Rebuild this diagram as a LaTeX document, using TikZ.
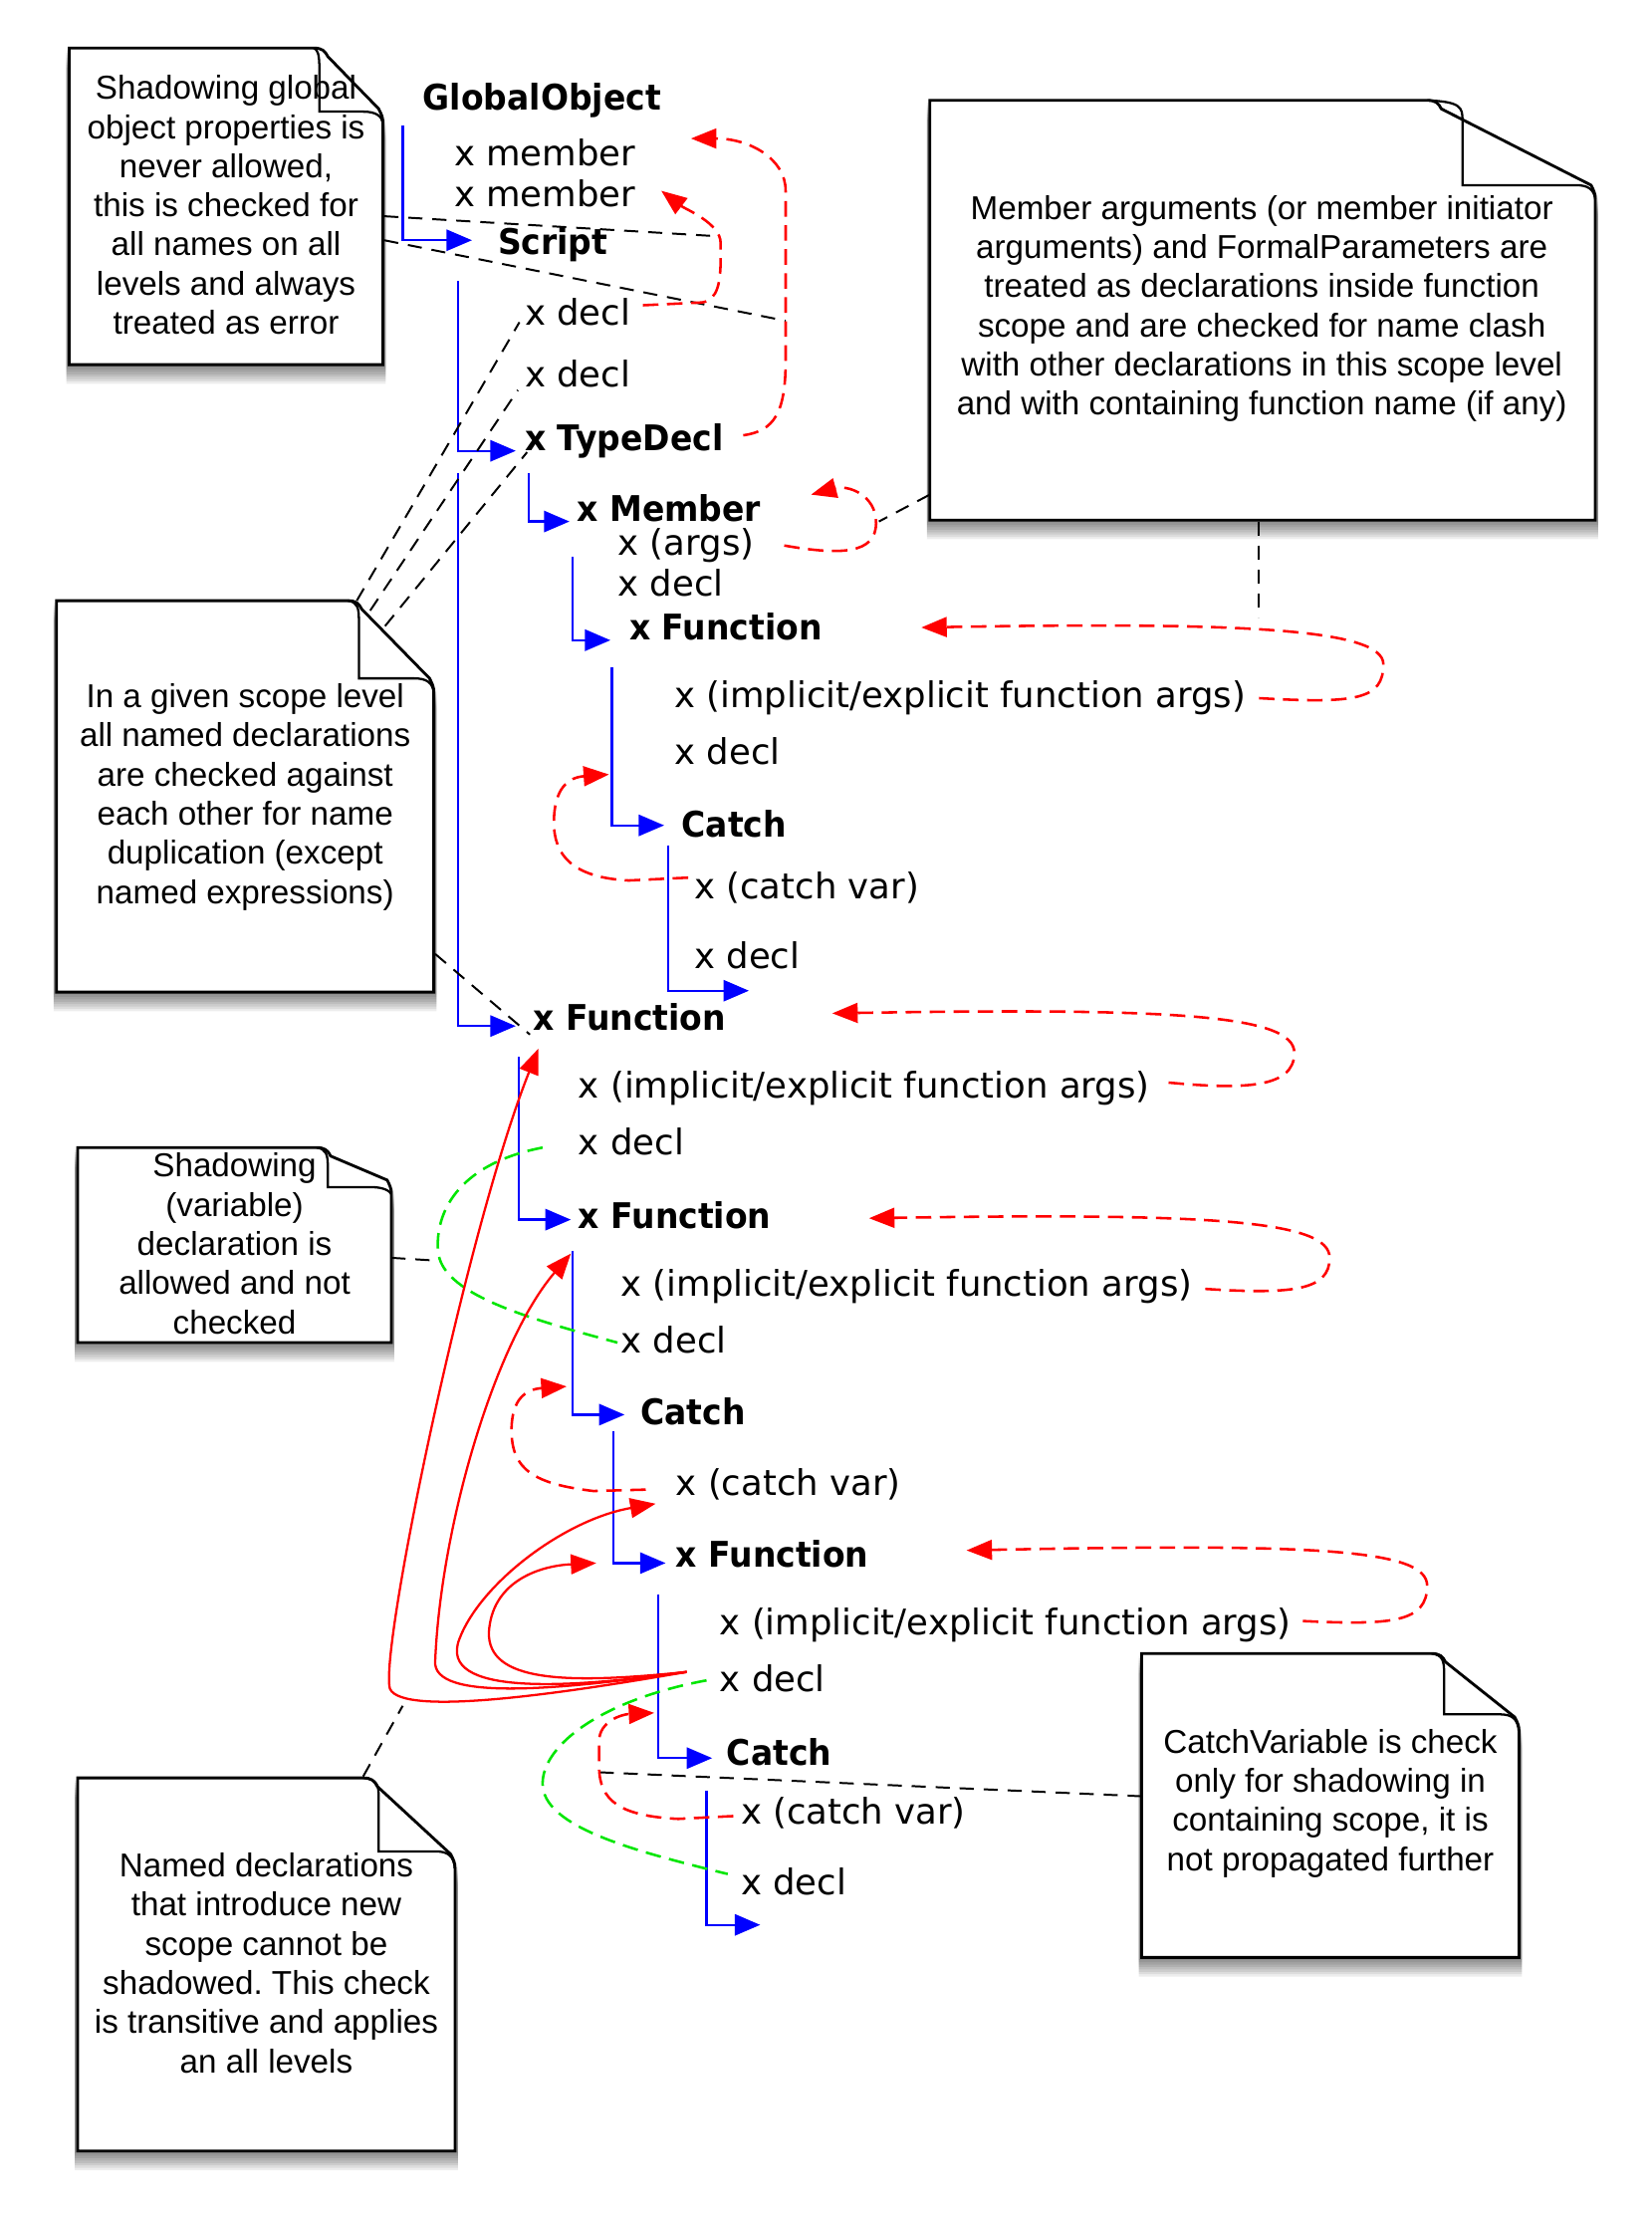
\documentclass[tikz,border=0pt]{standalone}
\usepackage{fontspec}
\setmainfont{Liberation Sans}
\newfontfamily\lblfont{DejaVu Sans}[BoldFeatures={FakeStretch=0.93}]
\usetikzlibrary{arrows.meta}
\definecolor{dgreen}{RGB}{0,230,0}
\frenchspacing
% x1 y1 x2 y2 xc xi yf yr
\newcommand{\notepath}[8]{(#1,#2) -- (#5,#2) .. controls (#5+6,#2) and (#5+8,#2+2) .. (#5+10,#2+6) -- (#3-3,#8-10) .. controls (#3-1,#8-6) and (#3,#8-4) .. (#3,#8) -- (#3,#4) -- (#1,#4) -- cycle}
\newcommand{\drawnote}[8]{%
  \foreach \k in {1,...,8} {\fill[black,opacity=0.07,shift={(0,1.7*\k)}] \notepath{#1-2}{#2}{#3+2}{#4}{#5}{#6}{#7}{#8};}
  \filldraw[fill=white,draw=black,line width=1pt] \notepath{#1}{#2}{#3}{#4}{#5}{#6}{#7}{#8};
  \draw[line width=0.8pt] (#5,#2) .. controls (#6-1,#2+1) and (#6,#2+5) .. (#6,#2+14) -- (#6,#7) -- (#3-14,#7) .. controls (#3-5,#7) and (#3-1,#7+3) .. (#3,#8);
}
\begin{document}
\begin{tikzpicture}[x=0.5pt,y=-0.5pt,
  lbl/.style={anchor=base west,inner sep=0pt,font=\lblfont\fontsize{12.5}{15}\selectfont},
  blbl/.style={anchor=base west,inner sep=0pt,font=\lblfont\bfseries\fontsize{12.5}{15}\selectfont},
  notetxt/.style={align=center,inner sep=0pt,font=\fontsize{11.7}{13.85}\selectfont},
  tree/.style={draw=blue,line width=0.8pt,-{Triangle[length=9pt,width=7.5pt]}},
  redd/.style={draw=red,line width=0.9pt,dash pattern=on 5.5pt off 3pt,-{Triangle[length=9pt,width=7pt]}},
  reds/.style={draw=red,line width=0.8pt,-{Triangle[length=9pt,width=7pt]}},
  greend/.style={draw=dgreen,line width=0.9pt,dash pattern=on 5.5pt off 3pt},
  blkd/.style={draw=black,line width=0.7pt,dash pattern=on 5pt off 3.5pt}]
\useasboundingbox (0,0) rectangle (1169,1568);
\fill[white] (0,0) rectangle (1169,1568);

% ---------- notes ----------
\drawnote{49}{34}{271}{258}{222}{226}{79}{87}
\drawnote{40}{425}{307}{702}{246}{254}{480}{490}
\drawnote{658}{71}{1129}{368}{1010}{1035}{131}{141}
\drawnote{55}{812}{277}{950}{224}{232}{840}{845}
\drawnote{55}{1258}{322}{1522}{257}{268}{1310}{1322}
\drawnote{808}{1170}{1075}{1385}{1013}{1022}{1213}{1225}

\node[notetxt] (n1) at (160,145) {Shadowing global\\object properties is\\never allowed,\\this is checked for\\all names on all\\levels and always\\treated as error};
\node[notetxt] (n2) at (173.5,564) {In a given scope level\\all named declarations\\are checked against\\each other for name\\duplication (except\\named expressions)};
\node[notetxt] (n3) at (893,218.5) {Member arguments (or member initiator\\arguments) and FormalParameters are\\treated as declarations inside function\\scope and are checked for name clash\\with other declarations in this scope level\\and with containing function name (if any)};
\node[notetxt] (n4) at (166,880) {Shadowing\\(variable)\\declaration is\\allowed and not\\checked};
\node[notetxt] (n5) at (188.5,1389) {Named declarations\\that introduce new\\scope cannot be\\shadowed. This check\\is transitive and applies\\an all levels};
\node[notetxt] (n6) at (941.5,1276) {CatchVariable is check\\only for shadowing in\\containing scope, it is\\not propagated further};

% ---------- labels ----------
\node[blbl] (GO) at (299,78) {GlobalObject};
\node[lbl] (m1) at (321,117) {x member};
\node[lbl] (m2) at (321,146) {x member};
\node[blbl] (Sc) at (352,180) {Script};
\node[lbl] (d1) at (371,230) {x decl};
\node[lbl] (d2) at (371,274) {x decl};
\node[blbl] (TD) at (371,319) {x TypeDecl};
\node[blbl] (Me) at (408,369) {x Member};
\node[lbl] (ar) at (437,393) {x (args)};
\node[lbl] (d3) at (437,422) {x decl};
\node[blbl] (F1) at (445,453) {x Function};
\node[lbl] (ia1) at (477,501) {x (implicit/explicit function args)};
\node[lbl] (d4) at (477,541) {x decl};
\node[blbl] (C1) at (482,592) {Catch};
\node[lbl] (cv1) at (491,636) {x (catch var)};
\node[lbl] (d5) at (491,685) {x decl};
\node[blbl] (F2) at (377,729) {x Function};
\node[lbl] (ia2) at (409,777) {x (implicit/explicit function args)};
\node[lbl] (d6) at (409,817) {x decl};
\node[blbl] (F3) at (409,869) {x Function};
\node[lbl] (ia3) at (439,917) {x (implicit/explicit function args)};
\node[lbl] (d7) at (439,957) {x decl};
\node[blbl] (C2) at (453,1008) {Catch};
\node[lbl] (cv2) at (478,1058) {x (catch var)};
\node[blbl] (F4) at (478,1109) {x Function};
\node[lbl] (ia4) at (509,1157) {x (implicit/explicit function args)};
\node[lbl] (d8) at (509,1197) {x decl};
\node[blbl] (C3) at (514,1249) {Catch};
\node[lbl] (cv3) at (524,1291) {x (catch var)};
\node[lbl] (d9) at (524,1341) {x decl};

% ---------- blue tree connectors ----------
\draw[tree] (285,89) |- (334,170);
\draw[tree] (324,199) |- (365,319);
\draw[tree] (374,335) |- (403,369);
\draw[tree] (405,394) |- (432,453);
\draw[tree] (433,472) |- (470,584);
\draw[tree] (473,598) |- (530,701);
\draw[tree] (324,335) |- (365,726);
\draw[tree] (367,748) |- (404,863);
\draw[tree] (405,885) |- (442,1001);
\draw[tree] (434,1013) |- (471,1106);
\draw[tree] (466,1128) |- (504,1244);
\draw[tree] (500,1267) |- (538,1362);

% ---------- black dashed note connectors ----------
\draw[blkd] (272,153) -- (505,167);
\draw[blkd] (272,170) -- (556,227);
\draw[blkd] (252.5,425) -- (367.6,228);
\draw[blkd] (262,432) -- (366.5,276);
\draw[blkd] (272.5,443) -- (373,320);
\draw[blkd] (308,675) -- (375,732);
\draw[blkd] (658,350) -- (622,369);
\draw[blkd] (891,369) -- (891,437);
\draw[blkd] (277,890) -- (309,892);
\draw[blkd] (257,1257) -- (285,1207);
\draw[blkd] (808,1271) -- (424,1254);

% ---------- red dashed loops ----------
\draw[redd] (526,308) .. controls (548,305) and (556,292) .. (556,255) -- (556,135) .. controls (556,112) and (530,98) .. (489,98);
\draw[redd] (455,216) -- (497,214) .. controls (508,212) and (510,200) .. (510,182) -- (510,172) .. controls (510,158) and (485,148) .. (468,135);
\draw[redd] (555,386) .. controls (595,393) and (620,392) .. (620,370) .. controls (620,350) and (600,343) .. (574,350);
\draw[redd] (891,494) .. controls (960,498) and (979,495) .. (979,470) .. controls (979,445) and (880,440) .. (652,444);
\draw[redd] (487,621) -- (445,623) .. controls (405,621) and (392,605) .. (392,582) .. controls (392,558) and (402,550) .. (431,548);
\draw[redd] (827,766) .. controls (880,771) and (916,770) .. (916,745) .. controls (916,718) and (830,713) .. (589,717);
\draw[redd] (853,912) .. controls (915,916) and (941,913) .. (941,890) .. controls (941,864) and (860,858) .. (615,862);
\draw[redd] (457,1054) -- (420,1055) .. controls (378,1050) and (362,1040) .. (362,1012) .. controls (362,990) and (372,983) .. (401,981);
\draw[redd] (922,1147) .. controls (985,1150) and (1010,1148) .. (1010,1122) .. controls (1010,1096) and (930,1092) .. (684,1097);
\draw[redd] (519,1285) -- (480,1287) .. controls (440,1285) and (424,1275) .. (424,1250) -- (424,1232) .. controls (424,1218) and (440,1213) .. (463,1212);

% ---------- green dashed ----------
\draw[greend] (384,812) .. controls (322,824) and (308,860) .. (310,885) .. controls (312,915) and (370,932) .. (437,950);
\draw[greend] (500,1189) .. controls (425,1203) and (384,1235) .. (384,1262) .. controls (384,1293) and (450,1310) .. (515,1326);

% ---------- red solid ----------
\coordinate (S) at (486,1183);
\draw[reds] (S) .. controls (400,1198) and (285,1215) .. (276,1195) .. controls (268,1170) and (330,870) .. (381,742);
\draw[reds] (S) .. controls (400,1195) and (305,1205) .. (308,1175) .. controls (312,1080) and (350,950) .. (404,887);
\draw[reds] (S) .. controls (400,1195) and (310,1200) .. (325,1160) .. controls (340,1120) and (400,1075) .. (464,1064);
\draw[reds] (S) .. controls (400,1192) and (345,1190) .. (346,1155) .. controls (348,1120) and (380,1108) .. (422,1106);
\end{tikzpicture}
\end{document}
